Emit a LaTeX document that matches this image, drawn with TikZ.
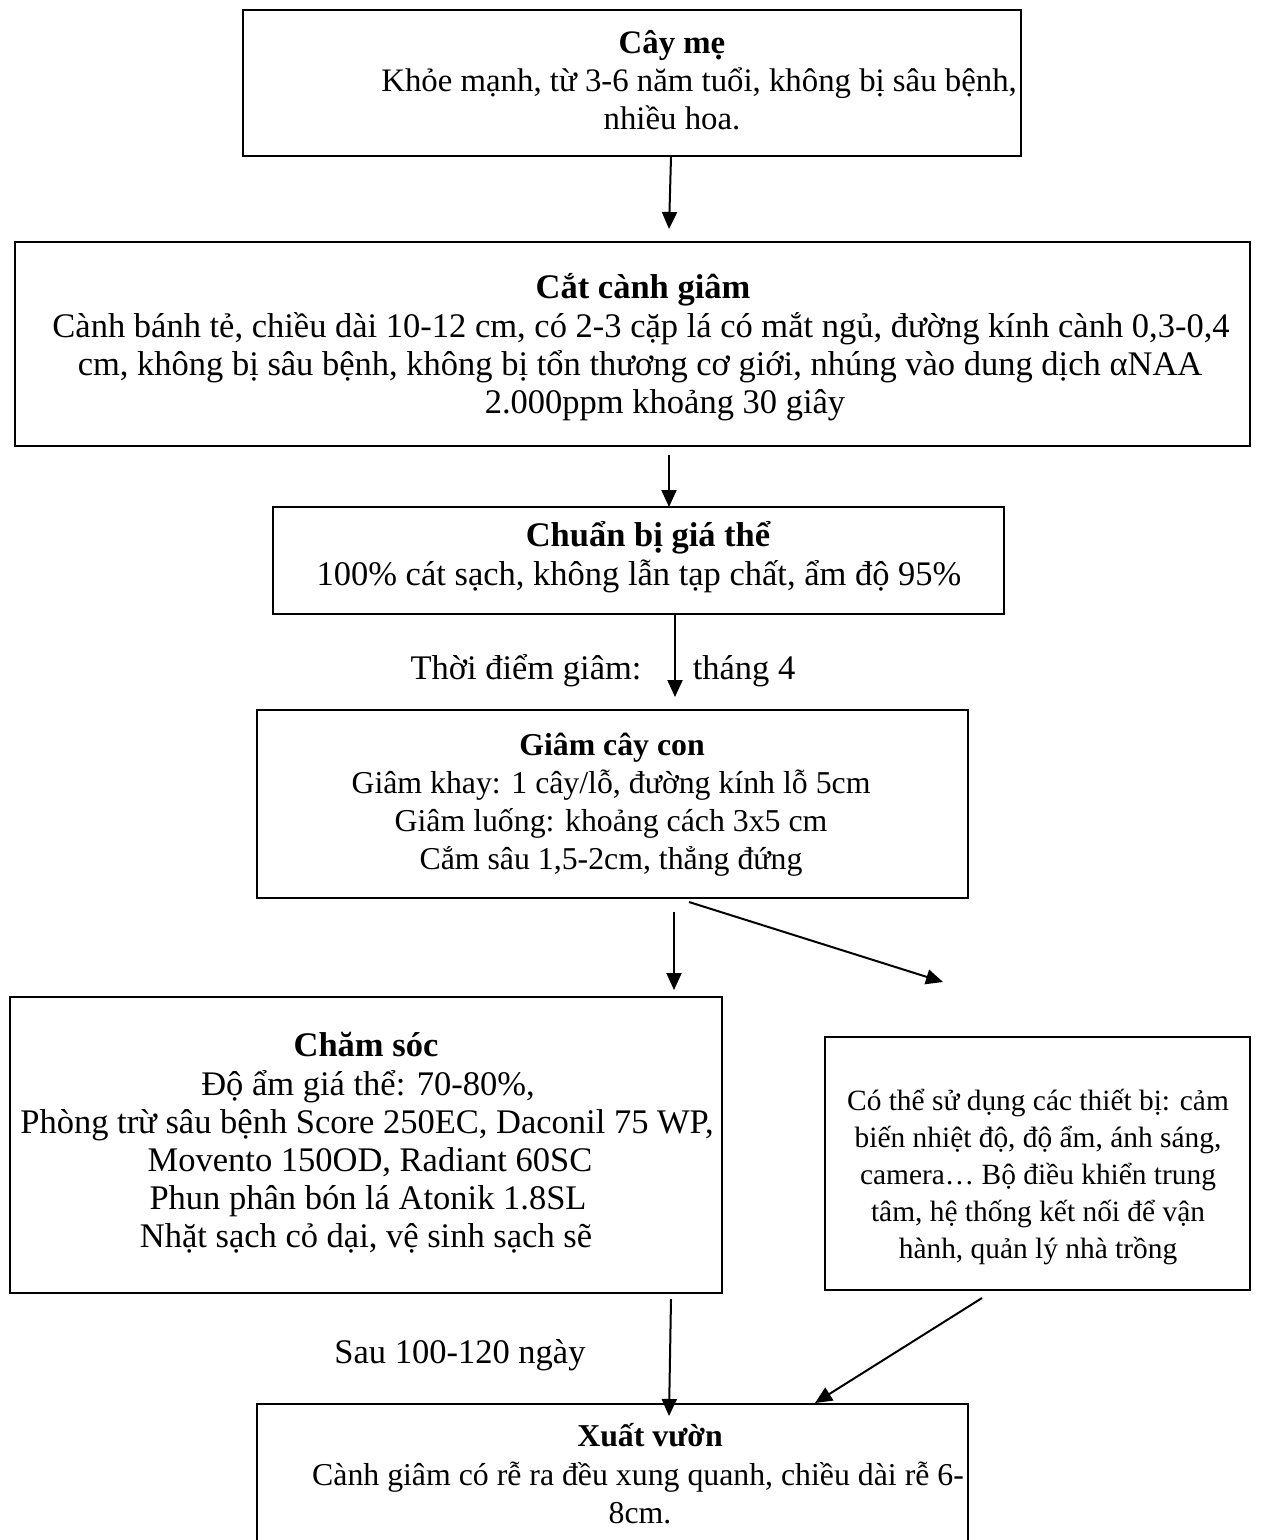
\documentclass[tikz,border=0pt]{standalone}
\usepackage{fontspec}
\setmainfont{Liberation Serif}
\usetikzlibrary{arrows.meta,fit}
\begin{document}
\begin{tikzpicture}[x=0.5pt,y=-0.5pt,
  box/.style={draw,line width=1.25pt,inner sep=0pt},
  txt/.style={anchor=base,inner sep=0pt,font=\fontsize{17.25}{19}\selectfont},
  ttl/.style={anchor=base,inner sep=0pt,font=\fontsize{17.25}{19}\selectfont\bfseries},
  txtb/.style={anchor=base,inner sep=0pt,font=\fontsize{16.4}{19}\selectfont},
  ttlb/.style={anchor=base,inner sep=0pt,font=\fontsize{16.4}{19}\selectfont\bfseries},
  txtc/.style={anchor=base,inner sep=0pt,font=\fontsize{15.9}{19}\selectfont},
  ttlc/.style={anchor=base,inner sep=0pt,font=\fontsize{15.9}{19}\selectfont\bfseries},
  sml/.style={anchor=base,inner sep=0pt,font=\fontsize{14.7}{18}\selectfont},
  arr/.style={line width=1pt,-{Triangle[width=7.5pt,length=8.5pt]}}]
\clip (0,0) rectangle (1267,1540);
\fill[white] (0,0) rectangle (1267,1540);

% boxes
\node[box,fit={(243,10) (1021,156)}] (b1) {};
\node[box,fit={(15,242) (1250,446)}] (b2) {};
\node[box,fit={(273,507) (1004,614)}] (b3) {};
\node[box,fit={(257,710) (968,898)}] (b4) {};
\node[box,fit={(10,997) (722,1293)}] (b5) {};
\node[box,fit={(825,1037) (1250,1290)}] (b6) {};
\node[box,fit={(257,1404) (968,1600)}] (b7) {};

% box 1
\node[ttlb] (t1) at (672,54) {Cây mẹ};
\node[txtb,anchor=base west] (t1a) at (381,92) {Khỏe mạnh, từ 3-6 năm tuổi, không bị sâu bệnh,};
\node[txtb] (t1b) at (672,130) {nhiều hoa.};

% box 2
\node[ttl] (t2) at (643,299) {Cắt cành giâm};
\node[txt] (t2a) at (641,337) {Cành bánh tẻ, chiều dài 10-12 cm, có 2-3 cặp lá có mắt ngủ, đường kính cành 0,3-0,4};
\node[txt] (t2b) at (640,375) {cm, không bị sâu bệnh, không bị tổn thương cơ giới, nhúng vào dung dịch αNAA};
\node[txt] (t2c) at (665,413) {2.000ppm khoảng 30 giây};

% box 3
\node[ttl] (t3) at (648,546) {Chuẩn bị giá thể};
\node[txt] (t3a) at (639,585) {100\% cát sạch, không lẫn tạp chất, ẩm độ 95\%};

% label
\node[txt] (l1) at (526,679) {Thời điểm giâm:};
\node[txt] (l2) at (744,679) {tháng 4};

% box 4
\node[ttlc] (t4) at (612,755) {Giâm cây con};
\node[txtc] (t4a) at (611,793) {Giâm khay: 1 cây/lỗ, đường kính lỗ 5cm};
\node[txtc] (t4b) at (611,831) {Giâm luống: khoảng cách 3x5 cm};
\node[txtc] (t4c) at (611,869) {Cắm sâu 1,5-2cm, thẳng đứng};

% box 5
\node[ttl] (t5) at (366,1056) {Chăm sóc};
\node[txt] (t5a) at (368,1095) {Độ ẩm giá thể: 70-80\%,};
\node[txt] (t5b) at (367,1133) {Phòng trừ sâu bệnh Score 250EC, Daconil 75 WP,};
\node[txt] (t5c) at (370,1171) {Movento 150OD, Radiant 60SC};
\node[txt] (t5d) at (368,1209) {Phun phân bón lá Atonik 1.8SL};
\node[txt] (t5e) at (366,1247) {Nhặt sạch cỏ dại, vệ sinh sạch sẽ};

% box 6
\node[sml] (t6a) at (1038,1110) {Có thể sử dụng các thiết bị: cảm};
\node[sml] (t6b) at (1038,1147) {biến nhiệt độ, độ ẩm, ánh sáng,};
\node[sml] (t6c) at (1038,1184) {camera… Bộ điều khiển trung};
\node[sml] (t6d) at (1038,1221) {tâm, hệ thống kết nối để vận};
\node[sml] (t6e) at (1038,1258) {hành, quản lý nhà trồng};

% label
\node[txt] (l3) at (460,1363) {Sau 100-120 ngày};

% box 7
\node[ttlc] (t7) at (650,1446) {Xuất vườn};
\node[txtc] (t7a) at (638,1485) {Cành giâm có rễ ra đều xung quanh, chiều dài rễ 6-};
\node[txtc] (t7b) at (640,1523) {8cm.};

% arrow end points
\coordinate (a1s) at (671,157);  \coordinate (a1e) at (669,229);
\coordinate (a2s) at (669,455);  \coordinate (a2e) at (669,507);
\coordinate (a3s) at (675,615);  \coordinate (a3e) at (675,697);
\coordinate (a4s) at (674,912);  \coordinate (a4e) at (674,990);
\coordinate (a5s) at (689,902);  \coordinate (a5e) at (943,982);
\coordinate (a6s) at (671,1299); \coordinate (a6e) at (669,1416);
\coordinate (a7s) at (982,1298); \coordinate (a7e) at (815,1403);

\draw[arr] (a1s) -- (a1e);
\draw[arr] (a2s) -- (a2e);
\draw[arr] (a3s) -- (a3e);
\draw[arr] (a4s) -- (a4e);
\draw[arr] (a5s) -- (a5e);
\draw[arr] (a6s) -- (a6e);
\draw[arr] (a7s) -- (a7e);
\end{tikzpicture}
\end{document}
